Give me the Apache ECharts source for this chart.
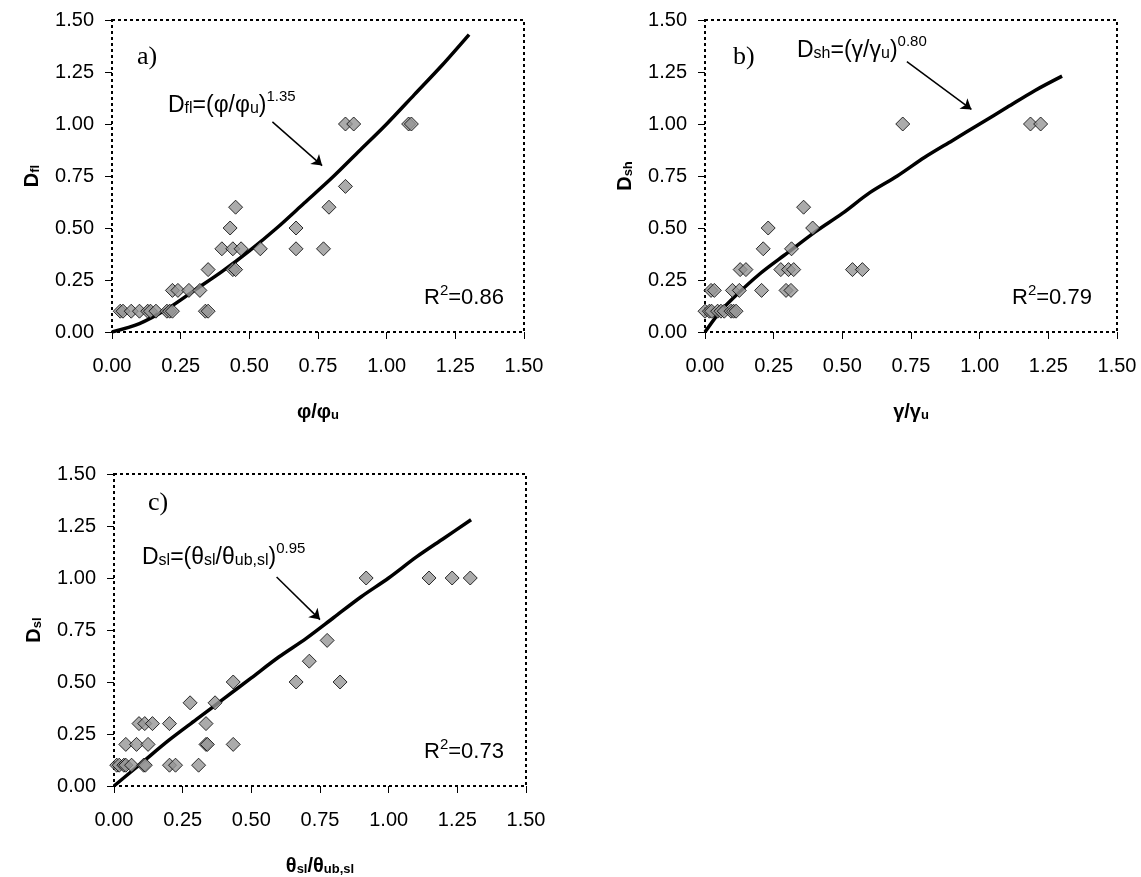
<!DOCTYPE html>
<html>
<head>
<meta charset="utf-8">
<script src="https://cdn.jsdelivr.net/npm/echarts@6/dist/echarts.min.js"></script>
<style>html,body{margin:0;padding:0;background:#fff}#c{width:1141px;height:877px}</style>
</head>
<body>
<div id="c"></div>
<script>
// ---- data ----
const tickLabels = ['0.00','0.25','0.50','0.75','1.00','1.25','1.50'];

// panel a) flexure
const aX = [0.03,0.04,0.07,0.10,0.13,0.14,0.16,0.20,0.21,0.22,0.34,0.35,
            0.22,0.24,0.28,0.32,
            0.35,0.44,0.45,
            0.40,0.44,0.47,0.54,0.67,0.77,
            0.43,0.67,
            0.45,0.79,
            0.85,
            0.85,0.88,1.08,1.09];
const aY = [0.1,0.1,0.1,0.1,0.1,0.1,0.1,0.1,0.1,0.1,0.1,0.1,
            0.2,0.2,0.2,0.2,
            0.3,0.3,0.3,
            0.4,0.4,0.4,0.4,0.4,0.4,
            0.5,0.5,
            0.6,0.6,
            0.7,
            1.0,1.0,1.0,1.0];
const aCurveX = [0,0.1,0.2,0.3,0.4,0.5,0.6,0.7,0.8,0.9,1.0,1.1,1.2,1.3];
const aCurveY = [0,0.04,0.11,0.20,0.29,0.39,0.50,0.62,0.74,0.87,1.00,1.14,1.28,1.43];

// panel b) shear
const bX = [0.00,0.016,0.024,0.046,0.058,0.07,0.095,0.104,0.113,
            0.022,0.034,0.10,0.125,0.206,0.295,0.313,
            0.128,0.149,0.276,0.304,0.323,0.537,0.573,
            0.212,0.315,
            0.23,0.392,
            0.359,
            0.72,1.185,1.222];
const bY = [0.1,0.1,0.1,0.1,0.1,0.1,0.1,0.1,0.1,
            0.2,0.2,0.2,0.2,0.2,0.2,0.2,
            0.3,0.3,0.3,0.3,0.3,0.3,0.3,
            0.4,0.4,
            0.5,0.5,
            0.6,
            1.0,1.0,1.0];
const bCurveX = [0,0.05,0.1,0.2,0.3,0.4,0.5,0.6,0.7,0.8,0.9,1.0,1.1,1.2,1.3];
const bCurveY = [0,0.09,0.16,0.28,0.38,0.48,0.57,0.67,0.75,0.84,0.92,1.00,1.08,1.16,1.23];

// panel c) sliding
const cX = [0.01,0.019,0.036,0.043,0.064,0.108,0.114,0.202,0.224,0.308,
            0.043,0.082,0.124,0.335,0.34,0.434,
            0.091,0.112,0.14,0.202,0.335,
            0.277,0.368,
            0.434,0.663,0.823,
            0.711,
            0.776,
            0.918,1.147,1.231,1.297];
const cY = [0.1,0.1,0.1,0.1,0.1,0.1,0.1,0.1,0.1,0.1,
            0.2,0.2,0.2,0.2,0.2,0.2,
            0.3,0.3,0.3,0.3,0.3,
            0.4,0.4,
            0.5,0.5,0.5,
            0.6,
            0.7,
            1.0,1.0,1.0,1.0];
const cCurveX = [0,0.1,0.2,0.3,0.4,0.5,0.6,0.7,0.8,0.9,1.0,1.1,1.2,1.3];
const cCurveY = [0,0.11,0.22,0.32,0.42,0.52,0.62,0.71,0.81,0.91,1.00,1.10,1.19,1.28];

// ---- build ----
const FONT = '"Liberation Sans", Arial, sans-serif';
const zip = (xs, ys) => xs.map((x, i) => [x, ys[i]]);

function gridDef(left, top) {
  return {left: left, top: top, width: 412, height: 312, show: true,
    borderColor: '#000', borderWidth: 2, borderType: [3, 3], backgroundColor: 'transparent'};
}
const axisCommon = {
  type: 'value', min: 0, max: 1.5, interval: 0.25,
  axisLine: {show: false},
  axisTick: {show: true, inside: false, length: 7, lineStyle: {color: '#000', width: 1}},
  splitLine: {show: false},
  axisLabel: {color: '#000', fontSize: 20, fontFamily: FONT,
    formatter: v => tickLabels[Math.round(v / 0.25)]}
};
const nameRich = {
  m: {fontSize: 20, fontWeight: 'bold', fontFamily: FONT, color: '#000', lineHeight: 24, verticalAlign: 'bottom'},
  s: {fontSize: 13, fontWeight: 'bold', fontFamily: FONT, color: '#000', lineHeight: 12, verticalAlign: 'bottom'}
};
function xAx(i, name) {
  return Object.assign({}, axisCommon, {gridIndex: i, name: name, nameLocation: 'middle', nameGap: 66,
    nameTextStyle: {rich: nameRich}, axisLabel: Object.assign({}, axisCommon.axisLabel, {margin: 24})});
}
function yAx(i, name) {
  return Object.assign({}, axisCommon, {gridIndex: i, name: name, nameLocation: 'middle', nameGap: 70,
    nameRotate: 90, nameTextStyle: {rich: nameRich}, axisLabel: Object.assign({}, axisCommon.axisLabel, {margin: 18})});
}
function scatter(i, xs, ys) {
  return {type: 'scatter', xAxisIndex: i, yAxisIndex: i, data: zip(xs, ys), symbol: 'diamond', symbolSize: 14,
    itemStyle: {color: '#969696', borderColor: '#000', borderWidth: 1}, z: 3, animation: false};
}
function curve(i, xs, ys, arrowFrom, arrowTo) {
  return {type: 'line', xAxisIndex: i, yAxisIndex: i, data: zip(xs, ys), showSymbol: false, symbol: 'none',
    smooth: 0.3, lineStyle: {color: '#000', width: 3.5}, z: 2, animation: false,
    markLine: {silent: true, symbol: ['none', 'arrow'], symbolSize: 10, animation: false,
      label: {show: false}, lineStyle: {color: '#000', width: 1.5, type: 'solid'},
      data: [[{coord: arrowFrom}, {coord: arrowTo}]]}};
}
const eqRich = {
  m: {fontSize: 23, fontFamily: FONT, fill: '#000', lineHeight: 28, verticalAlign: 'bottom'},
  s: {fontSize: 16, fontFamily: FONT, fill: '#000', lineHeight: 14, verticalAlign: 'bottom'},
  p: {fontSize: 15, fontFamily: FONT, fill: '#000', lineHeight: 14, verticalAlign: 'top'}
};
const rRich = {
  m: {fontSize: 22, fontFamily: FONT, fill: '#000', lineHeight: 26, verticalAlign: 'bottom'},
  p: {fontSize: 15, fontFamily: FONT, fill: '#000', lineHeight: 14, verticalAlign: 'top'}
};
function txt(left, top, text, rich) {
  return {type: 'text', left: left, top: top, z: 10, style: {text: text, rich: rich, fill: '#000'}};
}
const serifStyle = {font: '26px "Liberation Serif", "Times New Roman", serif', fill: '#000'};

const option = {
  animation: false,
  backgroundColor: '#fff',
  grid: [gridDef(112, 20), gridDef(705, 20), gridDef(114, 474)],
  xAxis: [xAx(0, '{m|φ/φ}{s|u}'), xAx(1, '{m|γ/γ}{s|u}'), xAx(2, '{m|θ}{s|sl}{m|/θ}{s|ub,sl}')],
  yAxis: [yAx(0, '{m|D}{s|fl}'), yAx(1, '{m|D}{s|sh}'), yAx(2, '{m|D}{s|sl}')],
  series: [
    curve(0, aCurveX, aCurveY, [0.584, 1.01], [0.765, 0.80]),
    scatter(0, aX, aY),
    curve(1, bCurveX, bCurveY, [0.735, 1.30], [0.97, 1.07]),
    scatter(1, bX, bY),
    curve(2, cCurveX, cCurveY, [0.592, 1.005], [0.75, 0.80]),
    scatter(2, cX, cY)
  ],
  graphic: [
    {type: 'text', left: 137, top: 44, z: 10, style: Object.assign({text: 'a)'}, serifStyle)},
    {type: 'text', left: 733, top: 44, z: 10, style: Object.assign({text: 'b)'}, serifStyle)},
    {type: 'text', left: 148, top: 490, z: 10, style: Object.assign({text: 'c)'}, serifStyle)},
    txt(168, 89, '{m|D}{s|fl}{m|=(φ/φ}{s|u}{m|)}{p|1.35}', eqRich),
    txt(797, 34, '{m|D}{s|sh}{m|=(γ/γ}{s|u}{m|)}{p|0.80}', eqRich),
    txt(142, 541, '{m|D}{s|sl}{m|=(θ}{s|sl}{m|/θ}{s|ub,sl}{m|)}{p|0.95}', eqRich),
    txt(424, 283, '{m|R}{p|2}{m|=0.86}', rRich),
    txt(1012, 283, '{m|R}{p|2}{m|=0.79}', rRich),
    txt(424, 737, '{m|R}{p|2}{m|=0.73}', rRich)
  ]
};
const chart = echarts.init(document.getElementById('c'), null, {renderer: 'canvas'});
chart.setOption(option);
</script>
</body>
</html>
